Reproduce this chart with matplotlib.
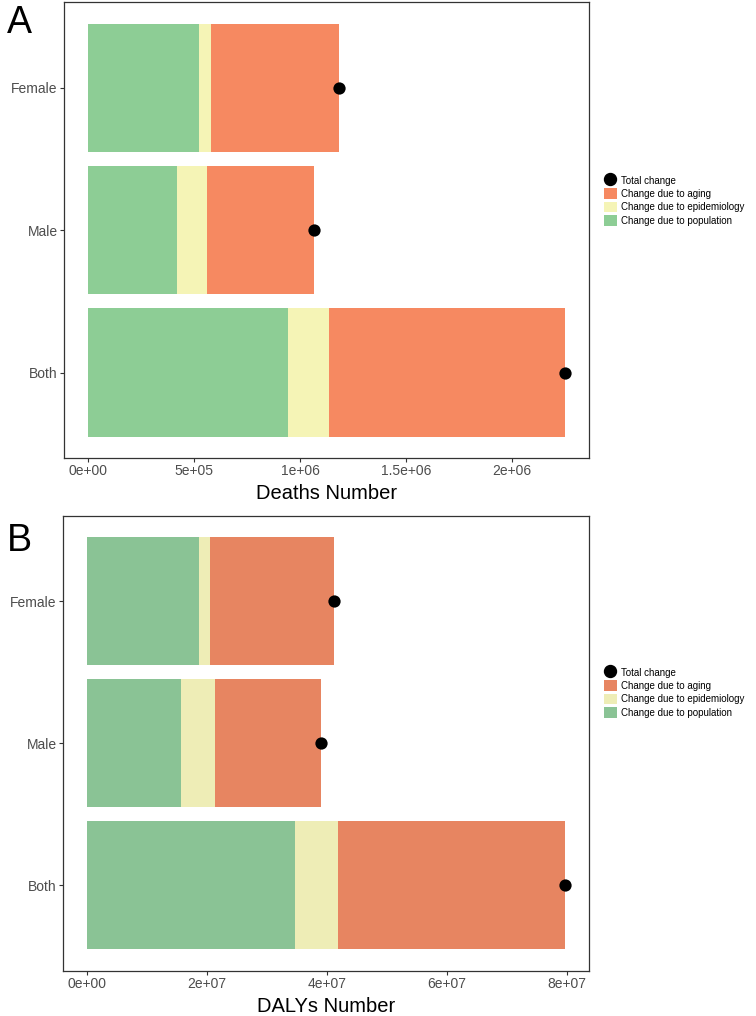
import matplotlib
matplotlib.use('Agg')
import matplotlib.pyplot as plt
from matplotlib.patches import Patch
from matplotlib.lines import Line2D

plt.rcParams['font.family'] = ['Liberation Sans', 'DejaVu Sans']

# カテゴリ（下から上へ）
groups = ['Both', 'Male', 'Female']

# A: Deaths
deaths_population = [0.945e6, 0.419e6, 0.525e6]
deaths_epidemiology = [0.192e6, 0.144e6, 0.054e6]
deaths_aging = [1.112e6, 0.502e6, 0.604e6]
deaths_total = [2.249e6, 1.065e6, 1.183e6]
deaths_ticks = [0, 5e5, 1e6, 1.5e6, 2e6]
deaths_ticklabels = ['0e+00', '5e+05', '1e+06', '1.5e+06', '2e+06']

# B: DALYs
dalys_population = [3.464e7, 1.565e7, 1.862e7]
dalys_epidemiology = [0.719e7, 0.566e7, 0.190e7]
dalys_aging = [3.793e7, 1.775e7, 2.067e7]
dalys_total = [7.976e7, 3.906e7, 4.119e7]
dalys_ticks = [0, 2e7, 4e7, 6e7, 8e7]
dalys_ticklabels = ['0e+00', '2e+07', '4e+07', '6e+07', '8e+07']

legend_labels = ['Total change', 'Change due to aging',
                 'Change due to epidemiology', 'Change due to population']

W, H = 756, 1016
fig = plt.figure(figsize=(W / 100, H / 100), dpi=100)


def draw_panel(rect, pop, epi, aging, total, ticks, ticklabels, xlabel,
               colors, letter, letter_y, legend_top):
    ax = fig.add_axes(rect)
    y = list(range(1, len(groups) + 1))
    c_pop, c_epi, c_age = colors
    left2 = [p + e for p, e in zip(pop, epi)]
    ax.barh(y, pop, height=0.9, color=c_pop, zorder=2)
    ax.barh(y, epi, left=pop, height=0.9, color=c_epi, zorder=2)
    ax.barh(y, aging, left=left2, height=0.9, color=c_age, zorder=2)
    ax.scatter(total, y, s=78, color='black', zorder=3, linewidths=0)

    tmax = max(total)
    ax.set_xlim(-0.05 * tmax, 1.05 * tmax)
    ax.set_ylim(0.4, len(groups) + 0.6)
    ax.set_yticks(y)
    ax.set_yticklabels(groups)
    ax.set_xticks(ticks)
    ax.set_xticklabels(ticklabels)
    ax.tick_params(axis='both', labelsize=10, labelcolor='#4D4D4D',
                   color='#333333', length=3, width=0.8, pad=1.6)
    for s in ax.spines.values():
        s.set_color('#333333')
        s.set_linewidth(0.9)
    ax.set_xlabel(xlabel, fontsize=14.5, labelpad=4)

    handles = [
        Line2D([], [], marker='o', linestyle='none', color='black',
               markersize=8.6),
        Patch(facecolor=c_age, edgecolor='none'),
        Patch(facecolor=c_epi, edgecolor='none'),
        Patch(facecolor=c_pop, edgecolor='none'),
    ]
    fig.legend(handles, legend_labels, loc='upper left',
               bbox_to_anchor=(604 / W, 1 - legend_top / H),
               frameon=False, fontsize=7.0, handlelength=1.3,
               handleheight=1.3, handletextpad=0.45, labelspacing=0.28,
               borderpad=0, borderaxespad=0)
    fig.text(7 / W, 1 - letter_y / H, letter, fontsize=27, va='center',
             ha='left')
    return ax


colors_a = ['#8DCD95', '#F5F4B6', '#F68961']
colors_b = ['#8AC395', '#EEEDB6', '#E78561']

draw_panel([64 / W, 1 - 458 / H, 525 / W, 455.7 / H],
           deaths_population, deaths_epidemiology, deaths_aging, deaths_total,
           deaths_ticks, deaths_ticklabels, 'Deaths Number', colors_a,
           'A', 23, 175)

draw_panel([63 / W, 1 - 970.6 / H, 526 / W, 454.6 / H],
           dalys_population, dalys_epidemiology, dalys_aging, dalys_total,
           dalys_ticks, dalys_ticklabels, 'DALYs Number', colors_b,
           'B', 541, 667)

fig.savefig('out.png', dpi=100)
